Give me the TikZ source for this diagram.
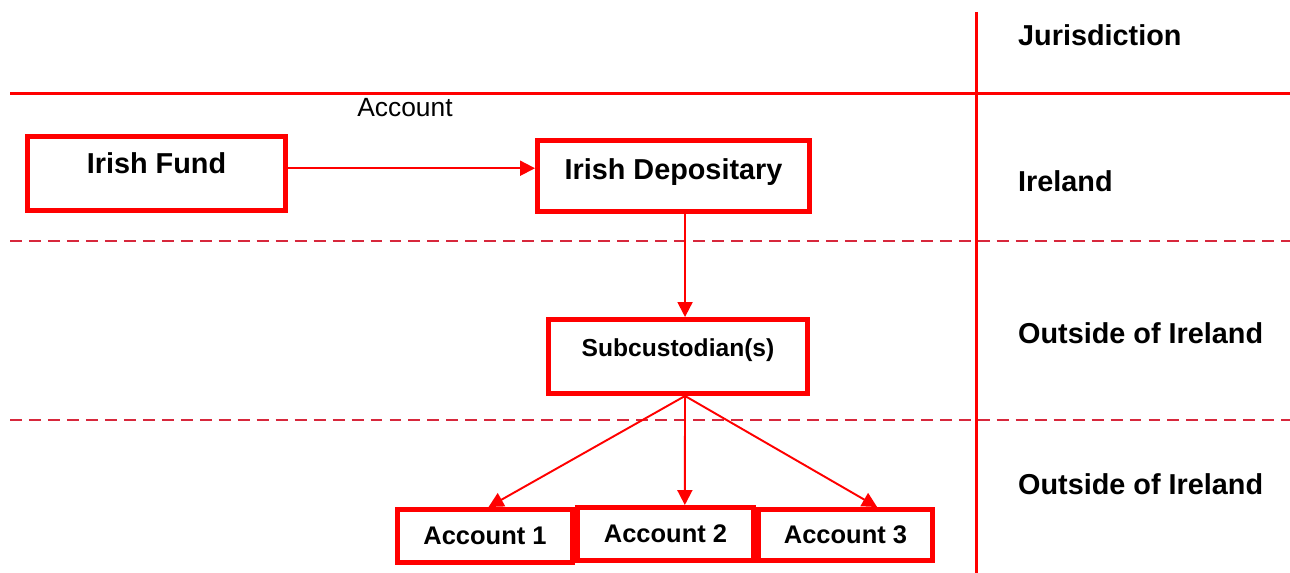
\documentclass[tikz,border=0pt]{standalone}
\usepackage{fontspec}
\setmainfont{Liberation Sans}
\usetikzlibrary{arrows.meta}
\definecolor{boxred}{RGB}{255,0,0}
\definecolor{dashred}{RGB}{215,40,60}
\begin{document}
\begin{tikzpicture}
    [x=0.02cm, y=-0.02cm,
    BigBox/.style={rectangle, draw=boxred, line width=2.8pt, font=\fontsize{16.4pt}{18pt}\selectfont\bfseries, inner sep=0pt},
    SmallBox/.style={rectangle, draw=boxred, line width=2.8pt, font=\fontsize{14.5pt}{16pt}\selectfont\bfseries, inner sep=0pt, minimum height=53*0.02cm},
    Link/.style={draw=boxred, line width=1.1pt, -{Triangle[length=8.5pt,width=8.5pt]}},
    Zone/.style={anchor=west, font=\fontsize{16.4pt}{18pt}\selectfont\bfseries}]
     \useasboundingbox (0,0) rectangle (1290,573);
     % grid of jurisdictions
     \draw[boxred, line width=1.7pt] (976,12) -- (976,573);
     \draw[boxred, line width=1.7pt] (10,94) -- (1290,94);
     \draw[dashred, line width=1.1pt, dash pattern=on 6.8pt off 4pt] (10,241) -- (1290,241);
     \draw[dashred, line width=1.1pt, dash pattern=on 6.8pt off 4pt] (10,420) -- (1290,420);
     \node[BigBox, minimum width=258*0.02cm, minimum height=74*0.02cm, text height=0.7em, text depth=0.7em] (n0) at (156.5,173.5){Irish Fund};
     \node[BigBox, minimum width=272*0.02cm, minimum height=71*0.02cm, text height=0.9em, text depth=0.53em] (n1) at (673.5,176){Irish Depositary};
     \node[BigBox, minimum width=259*0.02cm, minimum height=74*0.02cm, text height=0.7em, text depth=0.7em, font=\fontsize{14pt}{16pt}\selectfont\bfseries] (n2) at (678,356.5){Subcustodian(s)};
     \node[SmallBox, minimum width=175*0.02cm] (n3) at (485,536){Account 1};
     \node[SmallBox, minimum width=176*0.02cm] (n4) at (665.5,534){Account 2};
     \node[SmallBox, minimum width=174*0.02cm, minimum height=51*0.02cm] (n5) at (845.5,535){Account 3};
     \coordinate (hub) at ([xshift=4pt]n2.south);
     \draw[Link] ([yshift=3pt]n0.east) -- ([yshift=3pt]n0.east -| n1.west);
     \draw[Link] ([xshift=4pt]n2.north |- n1.south) -- ([xshift=4pt]n2.north);
     \draw[Link] (hub) -- ([xshift=2pt]n3.north);
     \draw[Link] (hub) -- ([xshift=11pt]n4.north);
     \draw[Link] (hub) -- ([xshift=18pt]n5.north);
     \node[font=\fontsize{15pt}{17pt}\selectfont] (AccountLabel) at (405,108){Account};
     \node[Zone] (JurisdictionLabel) at (1012,35){Jurisdiction};
     \node[Zone] (IrelandLabel) at (1012,181){Ireland};
     \node[Zone] (OutsideLabel) at (1012,333){Outside of Ireland};
     \node[Zone] (OutsideLowLabel) at (1012,484){Outside of Ireland};
\end{tikzpicture}
\end{document}
